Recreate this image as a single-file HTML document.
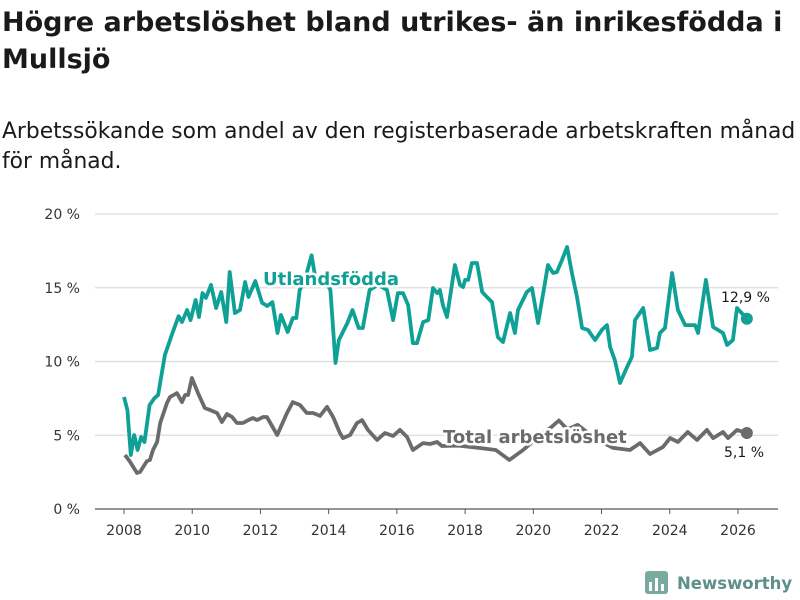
<!DOCTYPE html>
<html><head><meta charset="utf-8"><style>
body{margin:0;background:#fff;width:800px;height:600px;overflow:hidden;font-family:"DejaVu Sans","Liberation Sans",sans-serif;color:#1a1a1a}
#title{position:absolute;left:2px;top:4px;font-size:27px;font-weight:bold;line-height:37px;white-space:nowrap}
#sub{position:absolute;left:2px;top:117px;font-size:21.8px;line-height:30px;white-space:nowrap}
svg{position:absolute;left:0;top:0}
</style></head><body>
<div id="title">Högre arbetslöshet bland utrikes- än inrikesfödda i<br>Mullsjö</div>
<div id="sub">Arbetssökande som andel av den registerbaserade arbetskraften månad<br>för månad.</div>
<svg id="chart" width="800" height="600"></svg>
<script>
const yTicks=[0,5,10,15,20];
const xTicks=[2008,2010,2012,2014,2016,2018,2020,2022,2024,2026];
const utlDates=[2008.0,2008.1,2008.2,2008.3,2008.4,2008.5,2008.6,2008.75,2008.9,2009.0,2009.2,2009.4,2009.6,2009.7,2009.85,2009.95,2010.1,2010.2,2010.3,2010.4,2010.55,2010.7,2010.85,2011.0,2011.1,2011.25,2011.4,2011.55,2011.65,2011.85,2012.05,2012.2,2012.35,2012.5,2012.6,2012.8,2012.95,2013.05,2013.15,2013.3,2013.5,2013.6,2013.9,2014.05,2014.2,2014.3,2014.55,2014.7,2014.88,2015.0,2015.2,2015.45,2015.71,2015.89,2016.03,2016.18,2016.33,2016.47,2016.59,2016.77,2016.92,2017.06,2017.18,2017.26,2017.35,2017.47,2017.70,2017.85,2017.94,2018.0,2018.09,2018.20,2018.35,2018.50,2018.64,2018.79,2018.96,2019.11,2019.32,2019.46,2019.55,2019.81,2019.96,2020.14,2020.43,2020.58,2020.69,2020.84,2020.99,2021.13,2021.28,2021.43,2021.60,2021.81,2022.01,2022.16,2022.25,2022.39,2022.54,2022.75,2022.89,2022.98,2023.22,2023.42,2023.63,2023.71,2023.86,2024.07,2024.24,2024.45,2024.74,2024.83,2025.06,2025.27,2025.56,2025.68,2025.85,2025.97,2026.26];
const utlValues=[7.59,6.71,3.66,5.02,4.0,4.88,4.54,7.05,7.53,7.73,10.44,11.8,13.08,12.68,13.49,12.81,14.17,13.02,14.64,14.31,15.19,13.63,14.71,12.68,16.07,13.29,13.49,15.39,14.37,15.46,13.97,13.76,14.03,11.93,13.15,12.0,12.95,12.95,14.85,15.5,17.2,15.8,15.5,14.85,9.9,11.46,12.61,13.49,12.27,12.27,14.85,15.2,14.85,12.81,14.64,14.64,13.83,11.25,11.25,12.68,12.81,14.98,14.64,14.85,13.83,13.02,16.54,15.19,15.05,15.53,15.53,16.68,16.68,14.71,14.37,14.03,11.66,11.32,13.29,11.93,13.49,14.71,14.98,12.61,16.54,16.0,16.07,16.88,17.76,16.0,14.37,12.27,12.14,11.46,12.14,12.47,10.98,10.1,8.54,9.63,10.31,12.81,13.63,10.78,10.92,11.93,12.27,16.0,13.49,12.47,12.47,11.93,15.53,12.34,11.93,11.12,11.46,13.63,12.9];
const totDates=[2008.03,2008.18,2008.38,2008.47,2008.67,2008.76,2008.85,2008.97,2009.06,2009.26,2009.35,2009.55,2009.70,2009.79,2009.88,2009.99,2010.17,2010.37,2010.52,2010.73,2010.87,2011.02,2011.17,2011.31,2011.49,2011.64,2011.78,2011.9,2012.08,2012.19,2012.49,2012.78,2012.95,2013.16,2013.36,2013.54,2013.75,2013.95,2014.13,2014.33,2014.42,2014.63,2014.83,2014.98,2015.15,2015.42,2015.65,2015.89,2016.09,2016.3,2016.47,2016.77,2016.97,2017.18,2017.32,2017.8,2018.4,2018.9,2019.3,2019.7,2020.1,2020.5,2020.75,2021.0,2021.3,2021.8,2022.34,2022.83,2023.13,2023.42,2023.8,2024.01,2024.24,2024.53,2024.8,2025.09,2025.27,2025.56,2025.71,2025.97,2026.26];
const totValues=[3.66,3.19,2.44,2.51,3.25,3.32,4.0,4.54,5.83,7.19,7.59,7.86,7.25,7.73,7.73,8.88,7.86,6.85,6.71,6.51,5.9,6.44,6.24,5.83,5.83,6.03,6.17,6.03,6.24,6.24,5.02,6.51,7.25,7.05,6.51,6.51,6.31,6.92,6.24,5.15,4.81,5.02,5.83,6.03,5.36,4.68,5.15,4.95,5.36,4.88,4.0,4.47,4.41,4.54,4.27,4.3,4.14,4.0,3.32,4.0,4.8,5.5,6.0,5.4,5.7,4.8,4.14,4.0,4.47,3.73,4.2,4.81,4.54,5.22,4.68,5.36,4.81,5.22,4.81,5.36,5.15];
const NS='http://www.w3.org/2000/svg';
const svg=document.getElementById('chart');
const X=y=>124+(y-2008)*34.11;
const Y=v=>509-v*14.75;
function el(t,a,p){const e=document.createElementNS(NS,t);for(const k in a)e.setAttribute(k,a[k]);(p||svg).appendChild(e);return e;}
yTicks.forEach(v=>{
  const l=el('line',{x1:95,x2:778,y1:Y(v),y2:Y(v),stroke:v===0?'#555':'#dcdcdc','stroke-width':1.2});
  
  
  const t=el('text',{x:80,y:Y(v)+5,'text-anchor':'end','font-size':14,fill:'#333'});
  t.textContent=v+' %';
  
  
});
xTicks.forEach(yr=>{
  const tk=el('line',{x1:X(yr),x2:X(yr),y1:509,y2:514,stroke:'#555'});
  
  
  const t=el('text',{x:X(yr),y:535,'text-anchor':'middle','font-size':14,fill:'#333'});
  t.textContent=yr;
  
  
});
function line(d,v,c,name){
  const p=el('path',{d:d.map((x,i)=>(i?'L':'M')+X(x).toFixed(1)+','+Y(v[i]).toFixed(1)).join(''),fill:'none',stroke:c,'stroke-width':3.8,'stroke-linejoin':'round'});
  
  
  const n=d.length-1;
  const c2=el('circle',{cx:X(d[n]),cy:Y(v[n]),r:6,fill:c});
  
  
}
line(totDates,totValues,'#6b6b6b','total-line');
line(utlDates,utlValues,'#0fa196','utlandsfodda-line');
function label(x,y,txt,c,size,bold,name){
  const t=el('text',{x:x,y:y,'font-size':size,'font-weight':bold?'bold':'normal',fill:c,stroke:'#fff','stroke-width':5,'paint-order':'stroke','stroke-linejoin':'round'});
  t.textContent=txt;
  
  
}
label(263,285,'Utlandsfödda','#0fa196',18,true,'utlandsfodda-label');
label(443,443,'Total arbetslöshet','#6b6b6b',18,true,'total-label');
label(721,302,'12,9 %','#1a1a1a',14,false,'utlandsfodda-end-value');
label(724,457,'5,1 %','#1a1a1a',14,false,'total-end-value');
const g=el('g',{});


el('rect',{x:645,y:571,width:23,height:23,rx:3,fill:'#7aa9a0'},g);
el('rect',{x:649,y:582,width:3,height:9,fill:'#fff'},g);
el('rect',{x:655,y:578,width:3,height:13,fill:'#fff'},g);
el('rect',{x:661,y:584,width:3,height:7,fill:'#fff'},g);
const lt=el('text',{x:677,y:589,'font-size':16.5,'font-weight':'bold',fill:'#5f8f88'},g);
lt.textContent='Newsworthy';
</script>
</body></html>
